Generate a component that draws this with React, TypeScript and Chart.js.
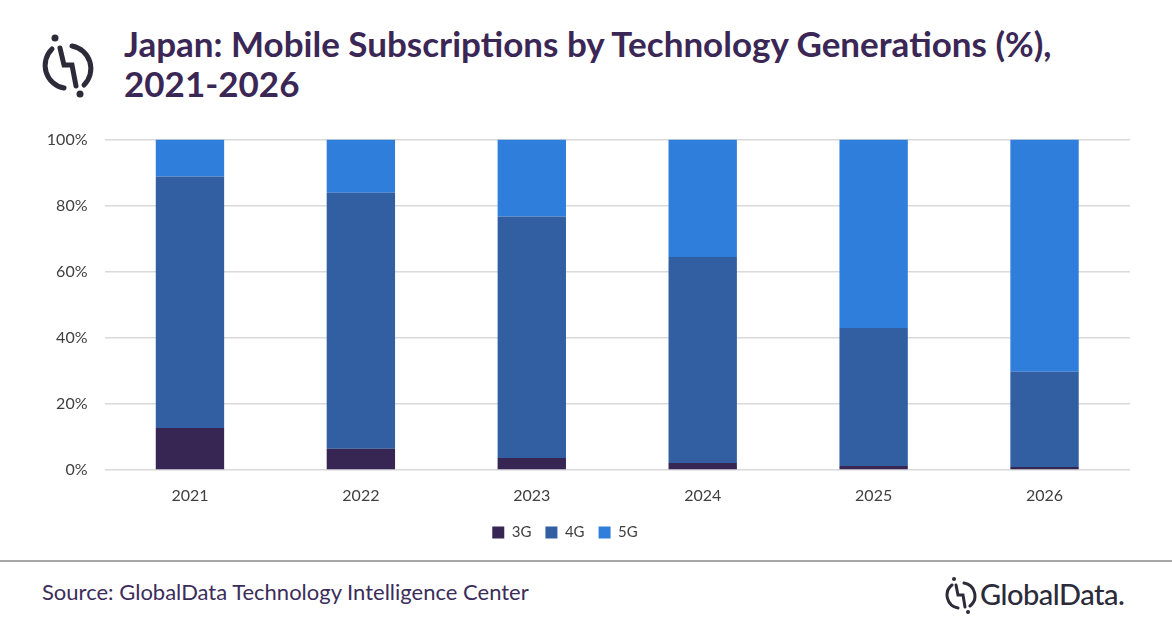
import React, { useEffect, useRef } from "react";
import { Chart, registerables } from "chart.js";

Chart.register(...registerables);

const categories = ["2021", "2022", "2023", "2024", "2025", "2026"];
const series3G = [12.7, 6.4, 3.6, 2.1, 1.2, 0.9];
const series4G = [76.1, 77.5, 73.1, 62.4, 41.8, 28.8];
const series5G = [11.2, 16.1, 23.3, 35.5, 57.0, 70.3];
const yTicks = [0, 20, 40, 60, 80, 100];

const FONT = "Lato, 'Open Sans', sans-serif";

export default function App() {
  const ref = useRef<HTMLCanvasElement | null>(null);

  useEffect(() => {
    if (!ref.current) return;
    const chart = new Chart(ref.current, {
      type: "bar",
      data: {
        labels: categories,
        datasets: [
          { label: "3G", data: series3G, backgroundColor: "#372554" },
          { label: "4G", data: series4G, backgroundColor: "#325EA2" },
          { label: "5G", data: series5G, backgroundColor: "#2F7EDB" },
        ],
      },
      options: {
        animation: false,
        responsive: false,
        maintainAspectRatio: false,
        layout: { padding: { left: 0, right: 42, top: 12, bottom: 10 } },
        datasets: { bar: { categoryPercentage: 1, barPercentage: 0.4 } },
        plugins: {
          legend: {
            position: "bottom",
            labels: {
              boxWidth: 12,
              boxHeight: 12,
              padding: 14,
              color: "#404040",
              font: { family: FONT, size: 15 },
            },
          },
          tooltip: { enabled: false },
        },
        scales: {
          x: {
            stacked: true,
            grid: { display: false },
            border: { display: false },
            ticks: { color: "#404040", font: { family: FONT, size: 16 }, padding: 8 },
            afterFit: (s: any) => { s.height = 41; },
          },
          y: {
            stacked: true,
            min: 0,
            max: 100,
            afterBuildTicks: (s: any) => { s.ticks = yTicks.map((v) => ({ value: v })); },
            grid: { color: "#D9D9D9", lineWidth: 1.5, drawTicks: false },
            border: { display: false },
            ticks: {
              color: "#404040",
              font: { family: FONT, size: 16 },
              padding: 17,
              callback: (v: any) => v + "%",
            },
            afterFit: (s: any) => { s.width = 104.5; },
          },
        },
      },
    });
    return () => chart.destroy();
  }, []);

  return (
    <div style={{ position: "absolute", left: 0, top: 0, width: 1172, height: 628, background: "#fff", overflow: "hidden", fontFamily: FONT }}>
      <svg style={{ position: "absolute", left: 38, top: 32 }} width="62" height="68" viewBox="0 0 62 68">
        <g fill="none" stroke="#2D2A3A" strokeWidth="5" strokeLinecap="round">
          <path d="M 14 17 A 23 23 0 0 0 26 56" />
          <path d="M 34 14 A 23 23 0 0 1 46 53" />
          <path d="M 22 16 L 26 33 L 34 33 L 38 54" />
        </g>
        <circle cx="17" cy="6" r="3.5" fill="#2D2A3A" />
        <circle cx="42" cy="62" r="3.5" fill="#2D2A3A" />
      </svg>
      <div style={{ position: "absolute", left: 124, top: 23, color: "#3B2755", fontWeight: 700, fontSize: 35, lineHeight: "40px", whiteSpace: "nowrap" }}>
        Japan: Mobile Subscriptions by Technology Generations (%),
        <br />
        2021-2026
      </div>
      <canvas ref={ref} width={1172} height={447} style={{ position: "absolute", left: 0, top: 113, width: 1172, height: 447 }} />
      <div style={{ position: "absolute", left: 0, top: 560, width: 1172, height: 2, background: "#A6A6A6" }} />
      <div style={{ position: "absolute", left: 42, top: 578, color: "#3B2D5A", fontSize: 22, whiteSpace: "nowrap" }}>
        Source: GlobalData Technology Intelligence Center
      </div>
      <svg style={{ position: "absolute", left: 944, top: 576 }} width="34" height="38" viewBox="0 0 34 38">
        <g fill="none" stroke="#2D2A3A" strokeWidth="3" strokeLinecap="round">
          <path d="M 8 9 A 13 13 0 0 0 14 32" />
          <path d="M 20 7 A 13 13 0 0 1 26 30" />
          <path d="M 12 9 L 14 19 L 19 19 L 21 31" />
        </g>
        <circle cx="10" cy="3" r="2" fill="#2D2A3A" />
        <circle cx="24" cy="36" r="2" fill="#2D2A3A" />
      </svg>
      <div style={{ position: "absolute", left: 980, top: 576, color: "#2B2B3A", fontSize: 29, fontWeight: 500, letterSpacing: -0.5, whiteSpace: "nowrap" }}>
        GlobalData.
      </div>
    </div>
  );
}
